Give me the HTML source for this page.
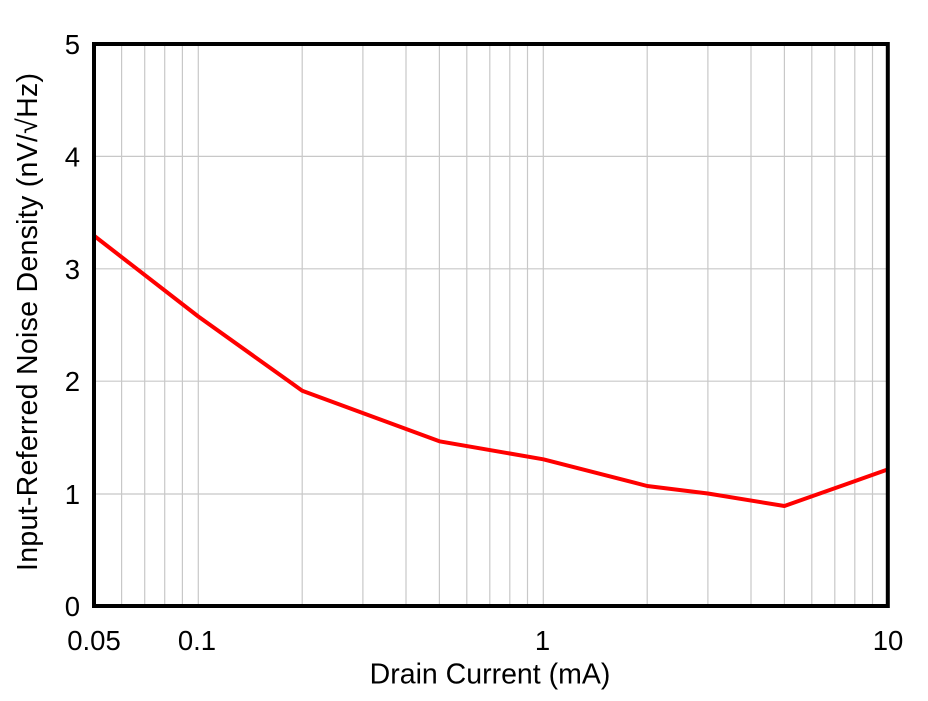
<!DOCTYPE html>
<html>
<head>
<meta charset="utf-8">
<style>
  html, body { margin: 0; padding: 0; background: #ffffff; }
  svg { display: block; }
  text { font-family: "Liberation Sans", Arial, sans-serif; fill: #000; }
</style>
</head>
<body>
<svg width="928" height="701" viewBox="0 0 928 701" xmlns="http://www.w3.org/2000/svg">
  <rect x="0" y="0" width="928" height="701" fill="#ffffff"/>
  <!-- vertical grid lines -->
  <g stroke="#c8c8c8" stroke-width="1.2">
    <line x1="121.6" y1="44" x2="121.6" y2="606"/>
    <line x1="144.7" y1="44" x2="144.7" y2="606"/>
    <line x1="164.7" y1="44" x2="164.7" y2="606"/>
    <line x1="182.4" y1="44" x2="182.4" y2="606"/>
    <line x1="198.3" y1="44" x2="198.3" y2="606"/>
    <line x1="302.2" y1="44" x2="302.2" y2="606"/>
    <line x1="362.9" y1="44" x2="362.9" y2="606"/>
    <line x1="406.0" y1="44" x2="406.0" y2="606"/>
    <line x1="439.4" y1="44" x2="439.4" y2="606"/>
    <line x1="466.8" y1="44" x2="466.8" y2="606"/>
    <line x1="489.8" y1="44" x2="489.8" y2="606"/>
    <line x1="509.8" y1="44" x2="509.8" y2="606"/>
    <line x1="527.5" y1="44" x2="527.5" y2="606"/>
    <line x1="543.3" y1="44" x2="543.3" y2="606"/>
    <line x1="647.2" y1="44" x2="647.2" y2="606"/>
    <line x1="707.9" y1="44" x2="707.9" y2="606"/>
    <line x1="751.0" y1="44" x2="751.0" y2="606"/>
    <line x1="784.4" y1="44" x2="784.4" y2="606"/>
    <line x1="811.8" y1="44" x2="811.8" y2="606"/>
    <line x1="834.8" y1="44" x2="834.8" y2="606"/>
    <line x1="854.8" y1="44" x2="854.8" y2="606"/>
    <line x1="872.5" y1="44" x2="872.5" y2="606"/>
  </g>
  <!-- horizontal grid lines -->
  <g stroke="#c8c8c8" stroke-width="1.2">
    <line x1="94" y1="494" x2="888" y2="494"/>
    <line x1="94" y1="381.2" x2="888" y2="381.2"/>
    <line x1="94" y1="268.8" x2="888" y2="268.8"/>
    <line x1="94" y1="156.4" x2="888" y2="156.4"/>
  </g>
  <!-- data series -->
  <polyline fill="none" stroke="#ff0000" stroke-width="4" stroke-linejoin="round"
    points="94.4,236 198.3,316.5 302.2,390.7 439.4,441.3 543.3,459.3 647.2,486 707.9,493.5 784.4,506 845,484.6 888.3,469.3"/>
  <!-- frame -->
  <rect x="94" y="44" width="793.8" height="562" fill="none" stroke="#000" stroke-width="4"/>
  <!-- y tick labels -->
  <g font-size="27.5" text-anchor="end">
    <text x="80" y="616">0</text>
    <text x="80" y="504">1</text>
    <text x="80" y="391">2</text>
    <text x="80" y="279">3</text>
    <text x="80" y="166.5">4</text>
    <text x="80" y="54">5</text>
  </g>
  <!-- x tick labels -->
  <g font-size="27.5" text-anchor="middle">
    <text x="94" y="650">0.05</text>
    <text x="197" y="650">0.1</text>
    <text x="542.5" y="650">1</text>
    <text x="888" y="650">10</text>
  </g>
  <!-- axis titles -->
  <text x="490" y="683.5" font-size="28.5" text-anchor="middle">Drain Current (mA)</text>
  <text transform="translate(37,322) rotate(-90)" x="0" y="0" font-size="28.5" text-anchor="middle" textLength="498" lengthAdjust="spacing">Input-Referred Noise Density (nV/√Hz)</text>
</svg>
</body>
</html>
